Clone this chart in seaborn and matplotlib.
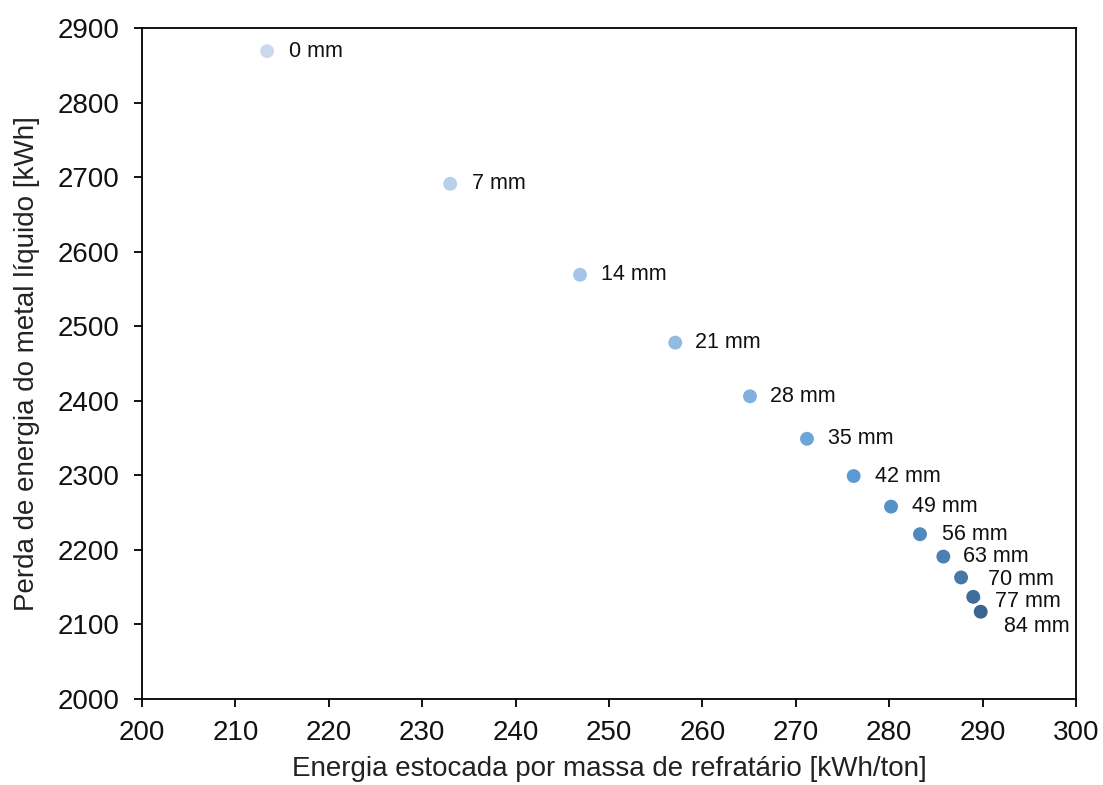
import matplotlib
matplotlib.use("Agg")
import matplotlib.pyplot as plt
import seaborn as sns
import pandas as pd
from matplotlib.colors import LinearSegmentedColormap

# Refractory lining thickness and corresponding energies
thickness_mm = [0, 7, 14, 21, 28, 35, 42, 49, 56, 63, 70, 77, 84]
stored_energy = [213.4, 233.0, 246.9, 257.1, 265.1, 271.2, 276.2, 280.2,
                 283.3, 285.8, 287.7, 289.0, 289.8]
metal_energy_loss = [2869, 2691, 2569, 2478, 2406, 2349, 2299, 2258,
                     2221, 2191, 2163, 2137, 2117]
point_labels = [f"{t} mm" for t in thickness_mm]

df = pd.DataFrame({
    "energia": stored_energy,
    "perda": metal_energy_loss,
    "espessura": thickness_mm,
})

sns.set_theme(style="white")
plt.rcParams["font.family"] = ["Liberation Sans", "DejaVu Sans"]

fig = plt.figure(figsize=(11.03, 7.85), dpi=100)
ax = fig.add_axes([0.1287, 0.1096, 0.8468, 0.8547])

cmap = LinearSegmentedColormap.from_list(
    "blues_ramp", ["#cbd9ee", "#5b9bd5", "#3b6591"])
sns.scatterplot(data=df, x="energia", y="perda", hue="espessura",
                palette=cmap, hue_norm=(0, 84), s=100, edgecolor="none",
                legend=False, ax=ax, zorder=3)

# Per-point label offsets in pixels
offsets = [(22, 0), (22, 0), (21, 0), (20, 0), (20, 0), (21, 0), (21, 0),
           (21, 0), (22, 0), (20, 0), (27, -2), (22, -5), (23, -15)]
for x, y, lab, (dx, dy) in zip(stored_energy, metal_energy_loss, point_labels, offsets):
    ax.annotate(lab, (x, y), xytext=(dx * 0.72, dy * 0.72), textcoords="offset points",
                ha="left", va="center", fontsize=15.5, color="#111111", zorder=4)

# Leader line for the crowded 77 mm label
ax.annotate("", xy=(stored_energy[11], metal_energy_loss[11]),
            xytext=(stored_energy[11] + 1.0, metal_energy_loss[11] - 4),
            arrowprops=dict(arrowstyle="-", color="#a6a6a6", lw=1.2), zorder=2)

ax.set_xlim(200, 300)
ax.set_ylim(2000, 2900)
ax.set_xticks(range(200, 301, 10))
ax.set_yticks(range(2000, 2901, 100))
ax.tick_params(axis="both", direction="out", length=5.5, width=1.3,
               bottom=True, left=True, labelsize=20,
               color="black", labelcolor="#111111")
ax.tick_params(axis="y", pad=10.5)
ax.tick_params(axis="x", pad=9.5)
for side in ["left", "bottom", "right", "top"]:
    ax.spines[side].set_color("black")
    ax.spines[side].set_linewidth(1.3)

ax.set_xlabel("Energia estocada por massa de refratário [kWh/ton]",
              fontsize=20, color="#222222", labelpad=7)
ax.set_ylabel("Perda de energia do metal líquido [kWh]",
              fontsize=20, color="#222222", labelpad=13)

fig.savefig("out.png", dpi=100, facecolor="white")
